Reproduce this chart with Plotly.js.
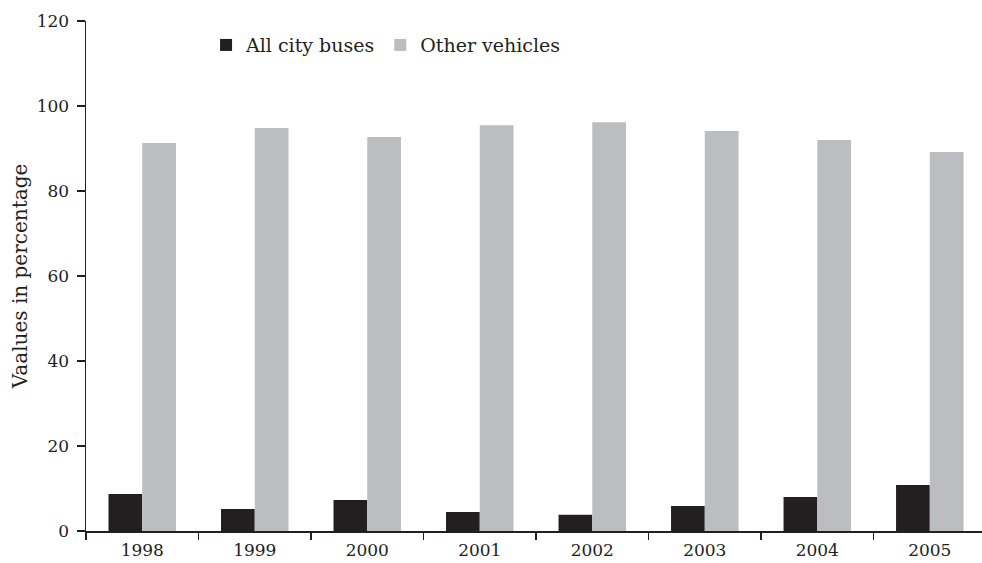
<!DOCTYPE html>
<html>
<head>
<meta charset="utf-8">
<script src="https://cdn.plot.ly/plotly-3.0.1.min.js"></script>
<style>html,body{margin:0;padding:0;background:#fff;}#chart{width:982px;height:563px;}</style>
</head>
<body>
<div id="chart"></div>
<script>
const years = ["1998", "1999", "2000", "2001", "2002", "2003", "2004", "2005"];
const cityBuses = [8.7, 5.2, 7.3, 4.5, 3.8, 5.9, 8.0, 10.8];
const otherVehicles = [91.3, 94.8, 92.7, 95.5, 96.2, 94.1, 92.0, 89.2];
const yTicks = [0, 20, 40, 60, 80, 100, 120];

const ink = "#231f20";
const fam = "DejaVu Serif, serif";
const tickFont = {family: fam, size: 17, color: ink};

const data = [
  {type: "bar", name: "All city buses", x: years, y: cityBuses,
   marker: {color: ink, line: {width: 0}}},
  {type: "bar", name: "Other vehicles", x: years, y: otherVehicles,
   marker: {color: "#bcbdc1", line: {width: 0}}}
];

const layout = {
  width: 982, height: 563,
  margin: {l: 86, r: 0, t: 21, b: 32},
  paper_bgcolor: "#fff", plot_bgcolor: "#fff",
  font: tickFont,
  barmode: "group", bargap: 0.4, bargroupgap: 0,
  showlegend: true,
  legend: {orientation: "h", x: 0.134, y: 0.99, xanchor: "left", yanchor: "top",
           font: {family: fam, size: 19, color: ink},
           bgcolor: "rgba(0,0,0,0)", itemwidth: 30, traceorder: "normal"},
  xaxis: {type: "category", range: [-0.5, 7.464], tickson: "boundaries",
          showline: true, linecolor: ink, linewidth: 1.5,
          ticks: "outside", ticklen: 7, tickwidth: 1.5, tickcolor: ink,
          ticklabelstandoff: 3,
          showgrid: false, zeroline: false, fixedrange: true,
          tickfont: tickFont},
  yaxis: {range: [0, 120], tickmode: "array", tickvals: yTicks, ticktext: yTicks.map(String),
          showline: true, linecolor: ink, linewidth: 1.5,
          ticks: "outside", ticklen: 8, tickwidth: 1.5, tickcolor: ink,
          ticklabelstandoff: 4,
          showgrid: false, zeroline: false, fixedrange: true,
          tickfont: tickFont,
          title: {text: "Vaalues in percentage", font: {family: fam, size: 20, color: ink}, standoff: 3}}
};

Plotly.newPlot("chart", data, layout, {displayModeBar: false, staticPlot: true});
</script>
</body>
</html>
